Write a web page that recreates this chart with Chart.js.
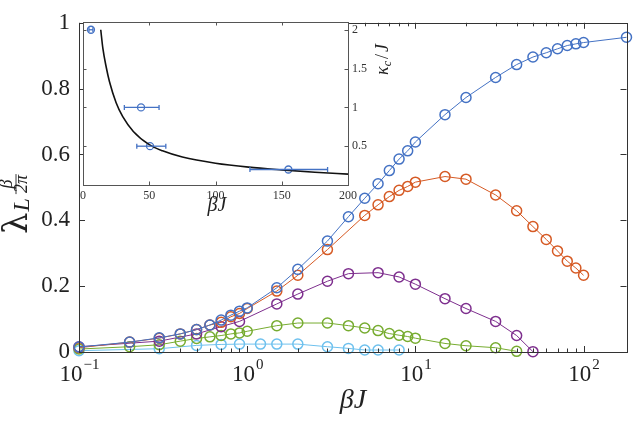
<!DOCTYPE html>
<html>
<head>
<meta charset="utf-8">
<script src="https://cdn.jsdelivr.net/npm/chart.js@4/dist/chart.umd.min.js"></script>
<style>
  html, body { margin: 0; padding: 0; background: #fff; }
  #wrap { position: relative; width: 633px; height: 421px; }
  canvas { position: absolute; left: 0; top: 0; }
</style>
</head>
<body>
<div id="wrap">
  <canvas id="mainChart" width="633" height="421"></canvas>
  <canvas id="insetChart" width="633" height="421"></canvas>
</div>
<script>
// main panel: lambda_L * beta / 2pi vs beta J
const xBlue = [0.1, 0.2, 0.3, 0.4, 0.5, 0.6, 0.7, 0.8, 0.9, 1, 1.5, 2, 3, 4, 5, 6, 7, 8, 9, 10, 15, 20, 30, 40, 50, 60, 70, 80, 90, 100, 180];
const yBlue = [0.015, 0.030, 0.043, 0.055, 0.068, 0.082, 0.097, 0.112, 0.124, 0.134, 0.195, 0.251, 0.337, 0.411, 0.467, 0.511, 0.551, 0.586, 0.611, 0.638, 0.721, 0.773, 0.834, 0.873, 0.896, 0.909, 0.921, 0.931, 0.936, 0.940, 0.956];

const xOrange = [0.1, 0.2, 0.3, 0.4, 0.5, 0.6, 0.7, 0.8, 0.9, 1, 1.5, 2, 3, 5, 6, 7, 8, 9, 10, 15, 20, 30, 40, 50, 60, 70, 80, 90, 100];
const yOrange = [0.013, 0.030, 0.042, 0.055, 0.068, 0.082, 0.090, 0.107, 0.117, 0.132, 0.185, 0.233, 0.311, 0.415, 0.447, 0.472, 0.491, 0.503, 0.516, 0.533, 0.525, 0.477, 0.429, 0.381, 0.342, 0.307, 0.276, 0.255, 0.233];

const xPurple = [0.1, 0.3, 0.5, 0.7, 0.9, 1.5, 2, 3, 4, 6, 8, 10, 15, 20, 30, 40, 50];
const yPurple = [0.016, 0.033, 0.055, 0.077, 0.093, 0.146, 0.176, 0.215, 0.238, 0.241, 0.228, 0.206, 0.162, 0.132, 0.093, 0.050, 0.001];

const xGreen = [0.1, 0.2, 0.3, 0.4, 0.5, 0.6, 0.7, 0.8, 0.9, 1, 1.5, 2, 3, 4, 5, 6, 7, 8, 9, 10, 15, 20, 30, 40];
const yGreen = [0.009, 0.016, 0.022, 0.033, 0.041, 0.046, 0.050, 0.055, 0.058, 0.063, 0.080, 0.088, 0.088, 0.080, 0.073, 0.065, 0.056, 0.051, 0.047, 0.042, 0.026, 0.019, 0.013, 0.002];

const xCyan = [0.1, 0.3, 0.5, 0.7, 0.9, 1.2, 1.5, 2, 3, 4, 5, 6, 8];
const yCyan = [0.004, 0.010, 0.020, 0.023, 0.024, 0.024, 0.024, 0.024, 0.016, 0.011, 0.006, 0.006, 0.006];

const xMajorTicks = [0.1, 1, 10, 100];
const xTickExponents = ['\u22121', '0', '1', '2'];
const yTicks = [0, 0.2, 0.4, 0.6, 0.8, 1];
const yTickLabels = ['0', '0.2', '0.4', '0.6', '0.8', '1'];

// inset: kappa_c / J vs beta J
const insetX = [6, 43.8, 50.6, 155];
const insetY = [2.0, 1.0, 0.5, 0.2];
const insetXLow = [4.5, 31.2, 40.6, 126];
const insetXHigh = [7.5, 57.4, 62.5, 184.6];
const curveX = [13.4, 15, 17.5, 20, 25, 30, 38, 50, 60, 75, 100, 125, 150, 175, 200];
const curveY = [2.0, 1.76, 1.52, 1.33, 1.06, 0.88, 0.69, 0.52, 0.44, 0.36, 0.28, 0.23, 0.195, 0.165, 0.14];
const insetXTicks = [0, 50, 100, 150, 200];
const insetYTicks = [0.5, 1, 1.5, 2];
const insetYTickLabels = ['0.5', '1', '1.5', '2'];

const SERIF = '"Liberation Serif", "DejaVu Serif", serif';
const AXIS = '#333333';

function pts(xs, ys) {
  return xs.map((x, i) => ({ x: x, y: ys[i] }));
}

function series(xs, ys, color) {
  return {
    data: pts(xs, ys),
    borderColor: color,
    borderWidth: 1,
    pointRadius: 5,
    pointBorderWidth: 1.5,
    pointBorderColor: color,
    pointBackgroundColor: 'rgba(0,0,0,0)',
    tension: 0,
    clip: false
  };
}

function line(ctx, x0, y0, x1, y1) {
  ctx.beginPath();
  ctx.moveTo(x0, y0);
  ctx.lineTo(x1, y1);
  ctx.stroke();
}

const mainDecor = {
  id: 'mainDecor',
  afterDraw(chart) {
    const { ctx, chartArea: a, scales: { x, y } } = chart;
    ctx.save();
    ctx.strokeStyle = AXIS;
    ctx.lineWidth = 1;
    ctx.strokeRect(Math.round(a.left) + 0.5, Math.round(a.top) + 0.5, Math.round(a.right - a.left), Math.round(a.bottom - a.top));

    // log ticks, inward on bottom and top
    for (let d = 0.1; d <= 100; d *= 10) {
      for (let m = 1; m <= 9; m++) {
        const v = d * m;
        const p = Math.round(x.getPixelForValue(v)) + 0.5;
        if (p < a.left - 1 || p > a.right + 1) continue;
        const len = m === 1 ? 6 : 3.5;
        line(ctx, p, a.bottom, p, a.bottom - len);
        line(ctx, p, a.top, p, a.top + len);
      }
    }
    yTicks.forEach(v => {
      const p = Math.round(y.getPixelForValue(v)) + 0.5;
      line(ctx, a.left, p, a.left + 6, p);
      line(ctx, a.right, p, a.right - 6, p);
    });

    // decade labels 10^n
    ctx.fillStyle = '#222';
    ctx.textBaseline = 'alphabetic';
    xMajorTicks.forEach((v, i) => {
      const p = x.getPixelForValue(v);
      ctx.font = '23px ' + SERIF;
      const wb = ctx.measureText('10').width;
      ctx.font = '15px ' + SERIF;
      const we = ctx.measureText(xTickExponents[i]).width;
      const x0 = p - (wb + we) / 2;
      ctx.font = '23px ' + SERIF;
      ctx.textAlign = 'left';
      ctx.fillText('10', x0, 381);
      ctx.font = '15px ' + SERIF;
      ctx.fillText(xTickExponents[i], x0 + wb + 1, 369);
    });

    // x title
    ctx.font = 'italic 28px ' + SERIF;
    ctx.textAlign = 'center';
    ctx.fillText('\u03B2J', 353, 408);

    // y title: lambda_L beta/2pi, rotated
    ctx.save();
    ctx.translate(27, 234);
    ctx.rotate(-Math.PI / 2);
    ctx.textAlign = 'left';
    ctx.font = '34px "DejaVu Serif", serif';
    ctx.fillText('\u03BB', 0, 0);
    const wl = ctx.measureText('\u03BB').width;
    ctx.font = 'italic 24px ' + SERIF;
    const uL = wl + 1;
    ctx.fillText('L', uL, 2);
    const wL = ctx.measureText('L').width;
    const f0 = uL + wL + 5;
    ctx.font = 'italic 18px ' + SERIF;
    const wden = ctx.measureText('2\u03C0').width;
    const wnum = ctx.measureText('\u03B2').width;
    ctx.fillText('\u03B2', f0 + (wden - wnum) / 2, -15);
    ctx.fillText('2\u03C0', f0, 0);
    ctx.strokeStyle = '#222';
    ctx.lineWidth = 0.9;
    line(ctx, f0 - 1, -11, f0 + wden + 1, -11);
    ctx.restore();
    ctx.restore();
  }
};

new Chart(document.getElementById('mainChart'), {
  type: 'line',
  data: {
    datasets: [
      series(xBlue, yBlue, '#4472C4'),
      series(xOrange, yOrange, '#D65A24'),
      series(xPurple, yPurple, '#7E2F8E'),
      series(xGreen, yGreen, '#77AC30'),
      series(xCyan, yCyan, '#6EC1EE')
    ]
  },
  options: {
    responsive: false,
    animation: false,
    devicePixelRatio: 1,
    layout: { padding: { left: 0, right: 5, top: 14, bottom: 0 } },
    plugins: { legend: { display: false }, tooltip: { enabled: false } },
    scales: {
      x: {
        type: 'logarithmic',
        min: 0.1,
        max: 180,
        grid: { display: false, drawTicks: false },
        border: { display: false },
        ticks: { display: false },
        afterBuildTicks: s => { s.ticks = xMajorTicks.map(v => ({ value: v })); },
        afterFit: s => { s.height = 69; }
      },
      y: {
        min: 0,
        max: 1,
        grid: { display: false, drawTicks: false },
        border: { display: false },
        afterBuildTicks: s => { s.ticks = yTicks.map(v => ({ value: v })); },
        ticks: {
          padding: 9,
          color: '#222',
          font: { family: SERIF, size: 23 },
          callback: (v) => yTickLabels[yTicks.indexOf(v)]
        },
        afterFit: s => { s.width = 79; }
      }
    }
  },
  plugins: [mainDecor]
});

const insetDecor = {
  id: 'insetDecor',
  beforeDatasetsDraw(chart) {
    const { ctx, chartArea: a } = chart;
    ctx.save();
    ctx.fillStyle = '#fff';
    ctx.fillRect(a.left, a.top, a.right - a.left, a.bottom - a.top);
    ctx.restore();
  },
  afterDatasetsDraw(chart) {
    const { ctx, scales: { x, y } } = chart;
    ctx.save();
    ctx.strokeStyle = '#4472C4';
    ctx.lineWidth = 1.3;
    insetX.forEach((xv, i) => {
      const yp = y.getPixelForValue(insetY[i]);
      const x0 = x.getPixelForValue(insetXLow[i]);
      const x1 = x.getPixelForValue(insetXHigh[i]);
      line(ctx, x0, yp, x1, yp);
      line(ctx, x0, yp - 2.5, x0, yp + 2.5);
      line(ctx, x1, yp - 2.5, x1, yp + 2.5);
    });
    ctx.restore();
  },
  afterDraw(chart) {
    const { ctx, chartArea: a, scales: { x, y } } = chart;
    ctx.save();
    ctx.strokeStyle = '#555';
    ctx.lineWidth = 1;
    ctx.strokeRect(Math.round(a.left) + 0.5, Math.round(a.top) + 0.5, Math.round(a.right - a.left), Math.round(a.bottom - a.top));
    insetXTicks.forEach(v => {
      const p = Math.round(x.getPixelForValue(v)) + 0.5;
      line(ctx, p, a.bottom, p, a.bottom - 3.5);
      line(ctx, p, a.top, p, a.top + 3.5);
    });
    insetYTicks.forEach(v => {
      const p = Math.round(y.getPixelForValue(v)) + 0.5;
      line(ctx, a.left, p, a.left + 3.5, p);
      line(ctx, a.right, p, a.right - 3.5, p);
    });

    ctx.fillStyle = '#222';
    ctx.textBaseline = 'alphabetic';
    ctx.textAlign = 'center';
    ctx.font = 'italic 20px ' + SERIF;
    ctx.fillText('\u03B2J', 217, 211);

    // kappa_c / J, rotated
    ctx.save();
    ctx.translate(388, 75);
    ctx.rotate(-Math.PI / 2);
    ctx.textAlign = 'left';
    ctx.font = 'italic 18px ' + SERIF;
    ctx.fillText('\u03BA', 0, 0);
    let u = ctx.measureText('\u03BA').width;
    ctx.font = 'italic 12px ' + SERIF;
    ctx.fillText('c', u, 3);
    u += ctx.measureText('c').width + 2;
    ctx.font = '18px ' + SERIF;
    ctx.fillText('/', u, 0);
    u += ctx.measureText('/').width + 2;
    ctx.font = 'italic 18px ' + SERIF;
    ctx.fillText('J', u, 0);
    ctx.restore();
    ctx.restore();
  }
};

new Chart(document.getElementById('insetChart'), {
  type: 'line',
  data: {
    datasets: [
      {
        data: pts(curveX, curveY),
        borderColor: '#111',
        borderWidth: 1.6,
        pointRadius: 0,
        cubicInterpolationMode: 'monotone',
        clip: false
      },
      {
        data: pts(insetX, insetY),
        showLine: false,
        borderColor: '#4472C4',
        pointRadius: 3.5,
        pointBorderWidth: 1.3,
        pointBorderColor: '#4472C4',
        pointBackgroundColor: 'rgba(0,0,0,0)',
        clip: false
      }
    ]
  },
  options: {
    responsive: false,
    animation: false,
    devicePixelRatio: 1,
    layout: { padding: { left: 83, right: 245, top: 22, bottom: 206 } },
    plugins: { legend: { display: false }, tooltip: { enabled: false } },
    scales: {
      x: {
        type: 'linear',
        min: 0,
        max: 200,
        grid: { display: false, drawTicks: false },
        border: { display: false },
        afterBuildTicks: s => { s.ticks = insetXTicks.map(v => ({ value: v })); },
        ticks: { padding: 4, color: '#333', font: { family: SERIF, size: 12 }, maxRotation: 0 },
        afterFit: s => { s.height = 30; }
      },
      y: {
        position: 'right',
        min: 0,
        max: 2.1,
        grid: { display: false, drawTicks: false },
        border: { display: false },
        afterBuildTicks: s => { s.ticks = insetYTicks.map(v => ({ value: v })); },
        ticks: {
          padding: 4,
          color: '#333',
          font: { family: SERIF, size: 12 },
          callback: (v) => insetYTickLabels[insetYTicks.indexOf(v)]
        },
        afterFit: s => { s.width = 40; }
      }
    }
  },
  plugins: [insetDecor]
});
</script>
</body>
</html>
